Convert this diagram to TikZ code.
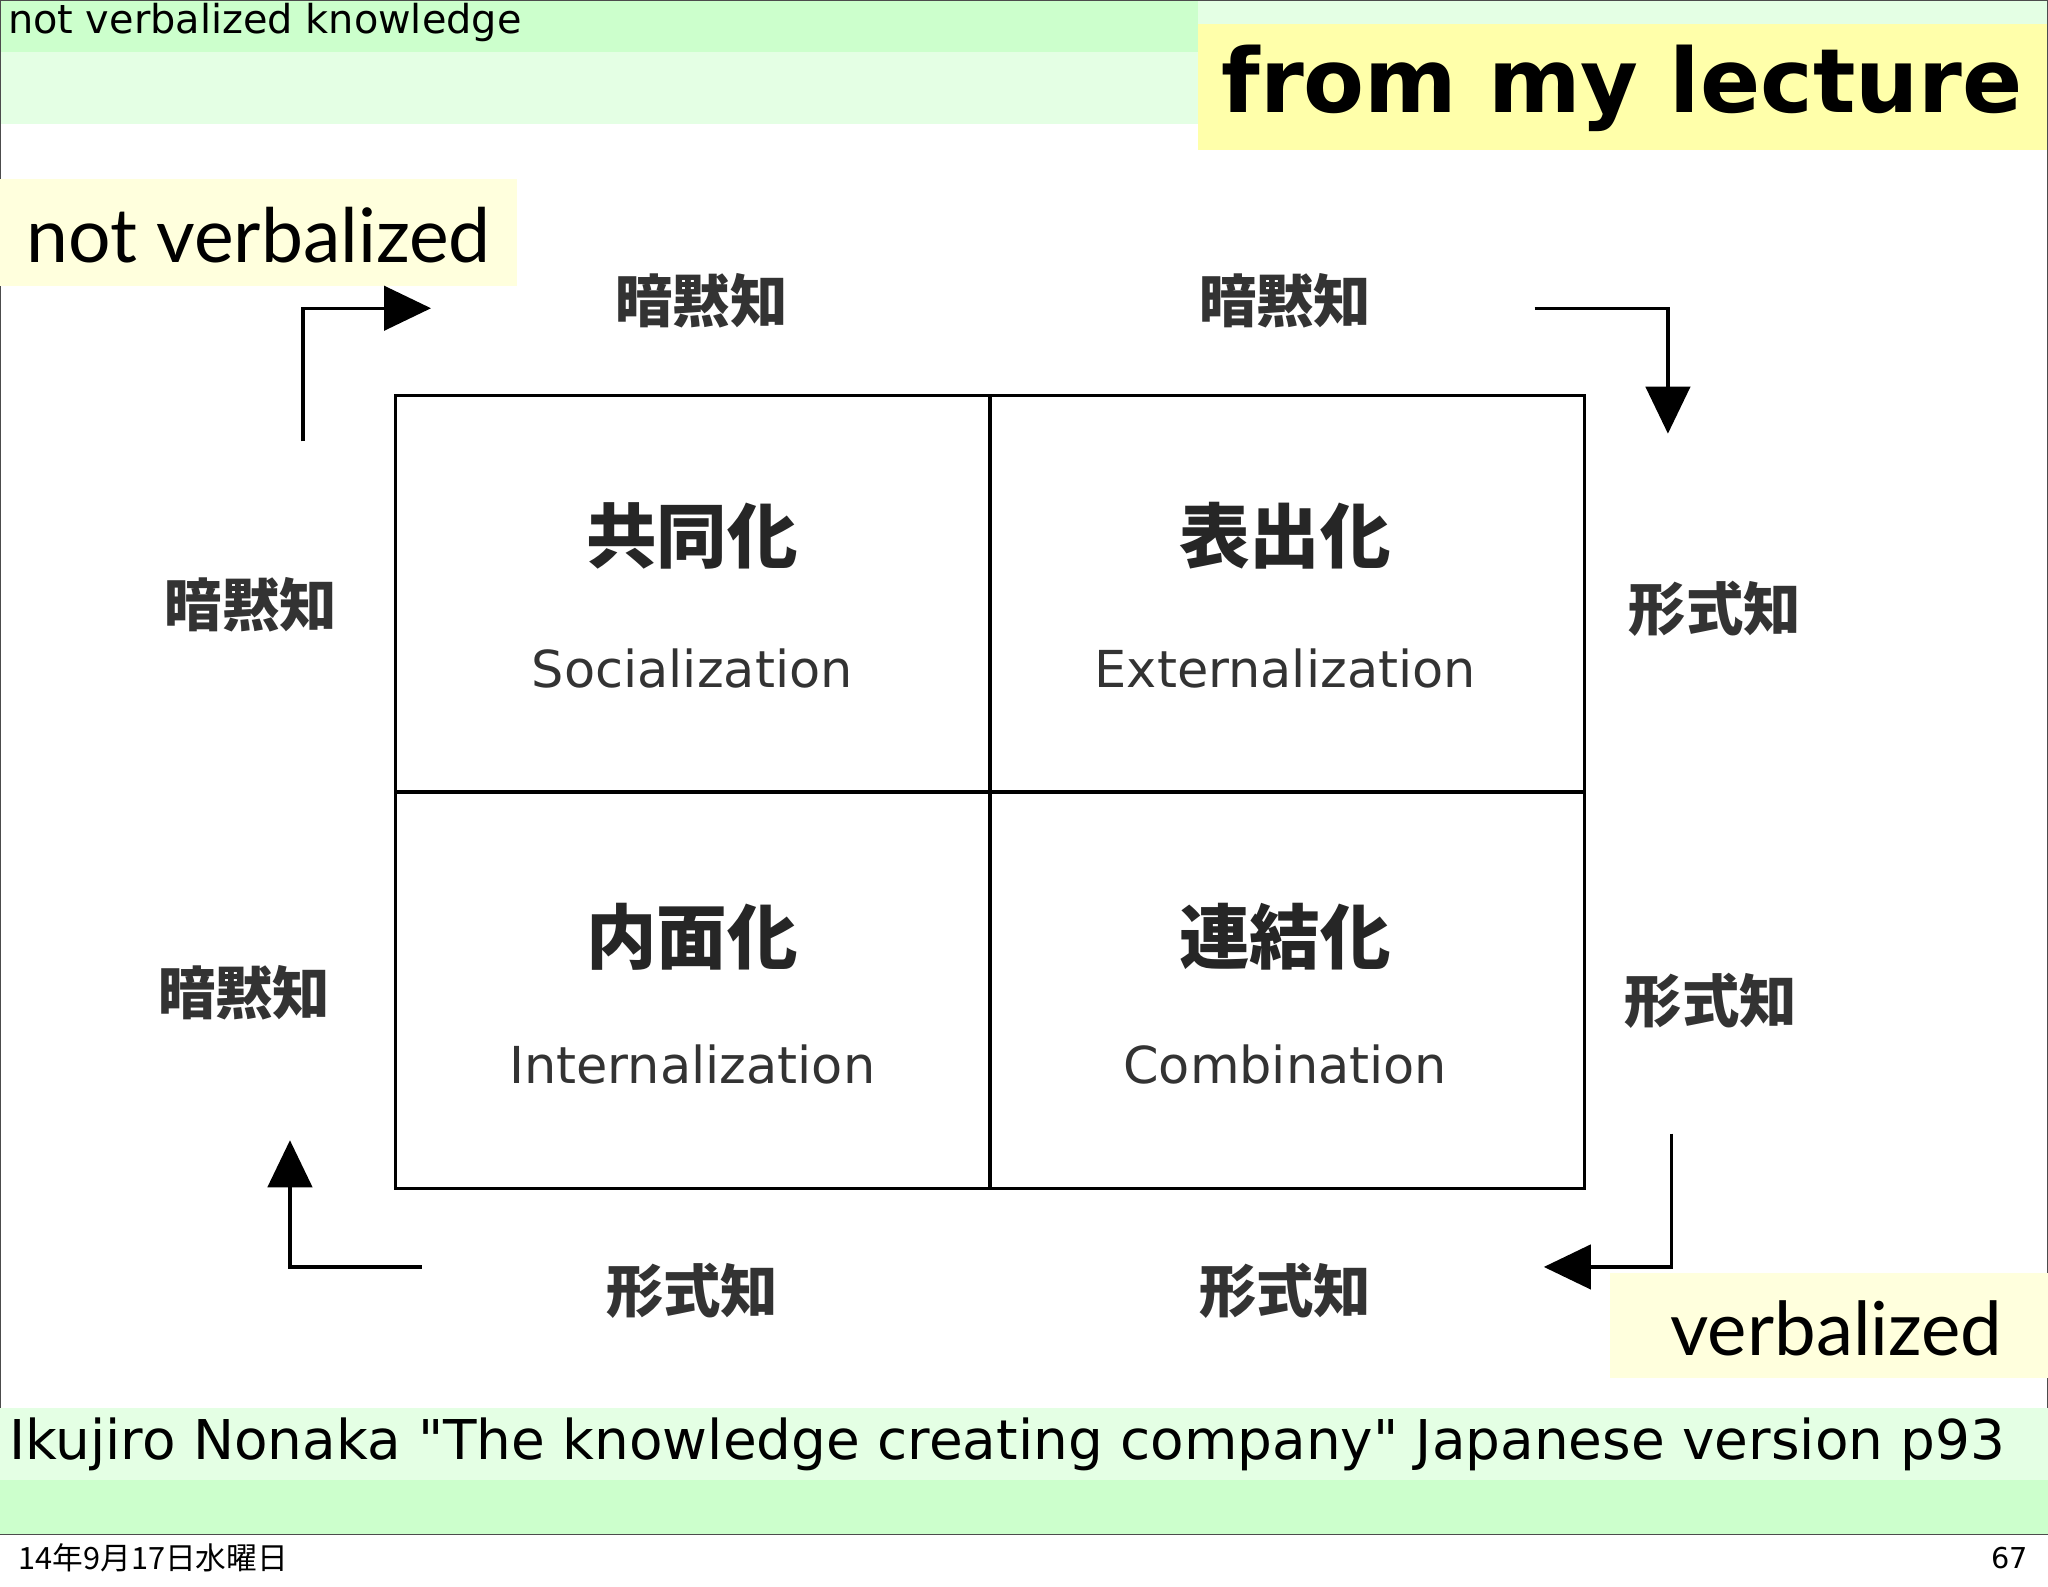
\documentclass[tikz,border=0pt]{standalone}
\usepackage{fontspec}
\setmainfont{DejaVu Sans}[Ligatures=TeXOff]
\newfontfamily\cjk{Noto Sans CJK JP}
\newfontfamily\gill{Lato}
\usetikzlibrary{arrows.meta}
\definecolor{gA}{HTML}{CCFFCC}
\definecolor{gB}{HTML}{E4FFE4}
\definecolor{yl}{HTML}{FFFFAA}
\definecolor{ylb}{HTML}{FFFFDD}
\tikzset{
 jp/.style={font=\cjk\bfseries\fontsize{44}{44}\selectfont, text=black!80},
 jpbig/.style={font=\cjk\bfseries\fontsize{54}{54}\selectfont, text=black!85},
 en/.style={font=\fontsize{39}{39}\selectfont, text=black!80},
 flow/.style={line width=2.5pt, -{Triangle[length=36pt,width=34pt]}},
}
\begin{document}
\begin{tikzpicture}[x=1pt,y=-1pt]
\useasboundingbox (0,0) rectangle (1568,1215);
\fill[white] (0,0) rectangle (1568,1215);
% top band
\fill[gB] (0,0) rectangle (1568,95);
\fill[gA] (0,0) rectangle (917,40);
\node[anchor=north west, inner sep=0, font=\fontsize{30.5}{30.5}\selectfont] (title) at (6,2) {not verbalized knowledge};
\fill[yl] (917,18) rectangle (1568,115);
\node[font=\bfseries\fontsize{68}{68}\selectfont] (lect) at (1242,68) {from my lecture};
% frame
\draw[black!70, line width=1pt] (0.5,0.5) rectangle (1567.5,1175);
% not verbalized
\fill[ylb] (0,137) rectangle (396,219);
\node[font=\gill\fontsize{57.5}{57.5}\selectfont] (nv) at (198,180) {not verbalized};
% grid
\node[draw, line width=2.5pt, minimum width=455pt, minimum height=303pt, inner sep=0] (q1) at (530.5,454.5) {};
\node[draw, line width=2.5pt, minimum width=455pt, minimum height=303pt, inner sep=0] (q2) at (985.5,454.5) {};
\node[draw, line width=2.5pt, minimum width=455pt, minimum height=303pt, inner sep=0] (q3) at (530.5,758.5) {};
\node[draw, line width=2.5pt, minimum width=455pt, minimum height=303pt, inner sep=0] (q4) at (985.5,758.5) {};
\node[jpbig] (t1) at (530,410) {共同化};
\node[en] (e1) at (530,512) {Socialization};
\node[jpbig] (t2) at (984,410) {表出化};
\node[en] (e2) at (984,512) {Externalization};
\node[jpbig] (t3) at (530,717) {内面化};
\node[en] (e3) at (530,815) {Internalization};
\node[jpbig] (t4) at (984,717) {連結化};
\node[en] (e4) at (984,815) {Combination};
% side labels
\node[jp] (a1) at (537,230) {暗黙知};
\node[jp] (a2) at (984,230) {暗黙知};
\node[jp] (a3) at (192,463) {暗黙知};
\node[jp] (a4) at (187,760) {暗黙知};
\node[jp] (k1) at (1313,466) {形式知};
\node[jp] (k2) at (1310,766) {形式知};
\node[jp] (k3) at (530,988) {形式知};
\node[jp] (k4) at (984,988) {形式知};
% arrows
\coordinate (s1) at (232,338); \coordinate (f1) at (330,236);
\draw[flow] (s1) |- (f1);
\coordinate (s2) at (1175,236); \coordinate (f2) at (1277,332);
\draw[flow] (s2) -| (f2);
\coordinate (s3) at (1280,868); \coordinate (f3) at (1182,970);
\draw[flow] (s3) |- (f3);
\coordinate (s4) at (323,970); \coordinate (f4) at (222,873);
\draw[flow] (s4) -| (f4);
% verbalized
\fill[ylb] (1233,975) rectangle (1568,1055);
\node[font=\gill\fontsize{57}{57}\selectfont] (vb) at (1406,1017) {verbalized};
% citation
\fill[gB] (0,1078) rectangle (1568,1133);
\fill[gA] (0,1133) rectangle (1568,1175);
\draw[black!70, line width=1pt] (0,1175) -- (1568,1175);
\node[anchor=west, inner sep=0, font=\fontsize{42}{42}\selectfont] (cite) at (7,1106) {Ikujiro Nonaka "The knowledge creating company" Japanese version p93};
% footer
\node[anchor=west, inner sep=0, font=\cjk\fontsize{23.5}{23.5}\selectfont] (date) at (14,1193) {14年9月17日水曜日};
\node[anchor=east, inner sep=0, font=\fontsize{22}{22}\selectfont] (pg) at (1553,1193) {67};
\end{tikzpicture}
\end{document}
